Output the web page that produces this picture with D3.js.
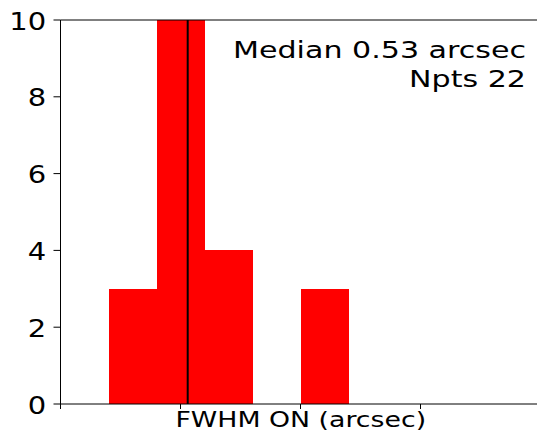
<!DOCTYPE html>
<html>
<head>
<meta charset="utf-8">
<script src="https://cdn.jsdelivr.net/npm/d3@7"></script>
<style>
  body { margin: 0; background: #fff; }
  svg { display: block; }
  text { font-family: "DejaVu Sans", sans-serif; fill: #000; }
</style>
</head>
<body>
<div id="chart"></div>
<script>
// histogram of FWHM values (arcsec)
var binStarts = [0.2, 0.4, 0.6, 0.8, 1.0];
var binWidth = 0.2;
var counts = [3, 10, 4, 0, 3];
var median = 0.53;
var npts = 22;
var xTicks = [0, 0.5, 1.0, 1.5, 2.0];
var yTicks = [0, 2, 4, 6, 8, 10];

var width = 537, height = 434;

var svg = d3.select("#chart").append("svg")
    .attr("width", width)
    .attr("height", height);

var x = d3.scaleLinear().domain([0, 2]).range([60.5, 540.5]);
var y = d3.scaleLinear().domain([0, 10]).range([404, 20]);

// bars
svg.append("g")
    .selectAll("rect")
    .data(counts)
    .enter()
    .append("rect")
    .attr("x", function (d, i) { return x(binStarts[i]); })
    .attr("y", function (d) { return y(d); })
    .attr("width", function (d, i) { return x(binStarts[i] + binWidth) - x(binStarts[i]); })
    .attr("height", function (d) { return y(0) - y(d); })
    .attr("fill", "#ff0000")
    .attr("shape-rendering", "crispEdges");

// median line
svg.append("line")
    .attr("x1", x(median)).attr("x2", x(median))
    .attr("y1", y(0)).attr("y2", y(10))
    .attr("stroke", "#000")
    .attr("stroke-width", 2);

// spines
svg.append("line")
    .attr("x1", x(0)).attr("x2", width)
    .attr("y1", y(10)).attr("y2", y(10))
    .attr("stroke", "#000").attr("stroke-width", 1);
svg.append("line")
    .attr("x1", x(0)).attr("x2", width)
    .attr("y1", y(0)).attr("y2", y(0))
    .attr("stroke", "#000").attr("stroke-width", 1);
svg.append("line")
    .attr("x1", x(0)).attr("x2", x(0))
    .attr("y1", y(0)).attr("y2", y(10))
    .attr("stroke", "#000").attr("stroke-width", 1);

// x ticks (no labels)
svg.append("g")
    .selectAll("line")
    .data(xTicks)
    .enter()
    .append("line")
    .attr("x1", function (d) { return x(d); })
    .attr("x2", function (d) { return x(d); })
    .attr("y1", y(0))
    .attr("y2", y(0) + 5)
    .attr("stroke", "#000");

// y ticks
var yg = svg.append("g")
    .selectAll("g")
    .data(yTicks)
    .enter()
    .append("g");
yg.append("line")
    .attr("x1", x(0) - 7)
    .attr("x2", x(0))
    .attr("y1", function (d) { return y(d); })
    .attr("y2", function (d) { return y(d); })
    .attr("stroke", "#000");
yg.append("text")
    .attr("transform", function (d) { return "translate(" + (x(0) - 14.3) + "," + (y(d) + 9.6) + ") scale(1.16,1)"; })
    .attr("text-anchor", "end")
    .style("font-size", "25px")
    .text(function (d) { return d; });

// x label
svg.append("text")
    .attr("transform", "translate(300.8,427) scale(1.245,1)")
    .attr("text-anchor", "middle")
    .style("font-size", "21.5px")
    .text("FWHM ON (arcsec)");

// annotation
svg.append("text")
    .attr("transform", "translate(526,58.3) scale(1.27,1)")
    .attr("text-anchor", "end")
    .style("font-size", "23.7px")
    .text("Median " + median.toFixed(2) + " arcsec");
svg.append("text")
    .attr("transform", "translate(526,86.7) scale(1.27,1)")
    .attr("text-anchor", "end")
    .style("font-size", "23.7px")
    .text("Npts " + npts);
</script>
</body>
</html>
